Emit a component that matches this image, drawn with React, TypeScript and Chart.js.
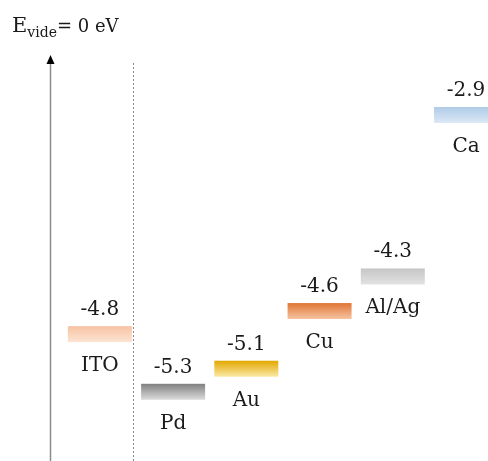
import React, { useEffect, useRef } from "react";
import { Chart, registerables } from "chart.js";

Chart.register(...registerables);

// ---- data ----
const materials = ["ITO", "Pd", "Au", "Cu", "Al/Ag", "Ca"];
const workFunctions = [-4.8, -5.3, -5.1, -4.6, -4.3, -2.9];
const valueLabels = ["-4.8", "-5.3", "-5.1", "-4.6", "-4.3", "-2.9"];
const gradientTop = ["#f7c2a2", "#808080", "#e2a800", "#e07635", "#c6c6c6", "#afcbe8"];
const gradientBottom = ["#fce4d4", "#dcdcdc", "#fbe8a6", "#f6c3a2", "#e2e2e2", "#dce8f5"];
const titleMain = "E";
const titleSub = "vide";
const titleRest = "= 0 eV";
const separatorAt = 0.45;

// ---- style ----
const FONT = "'DejaVu Serif', 'Liberation Serif', serif";
const LEVEL_W = 64;
const LEVEL_H = 16;

const levelsPlugin = {
  id: "levels",
  afterDatasetsDraw(chart: any) {
    const ctx: CanvasRenderingContext2D = chart.ctx;
    const area = chart.chartArea;
    const meta = chart.getDatasetMeta(0);
    ctx.save();

    // vertical energy axis with arrow
    const ax = area.left + 0.5;
    ctx.strokeStyle = "#8c8c8c";
    ctx.lineWidth = 1.5;
    ctx.beginPath();
    ctx.moveTo(ax, area.top + 6);
    ctx.lineTo(ax, area.bottom);
    ctx.stroke();
    ctx.fillStyle = "#000";
    ctx.beginPath();
    ctx.moveTo(ax, area.top);
    ctx.lineTo(ax - 4, area.top + 9);
    ctx.lineTo(ax + 4, area.top + 9);
    ctx.closePath();
    ctx.fill();

    // dotted separator
    const sx = Math.round(chart.scales.x.getPixelForValue(separatorAt)) + 0.5;
    ctx.strokeStyle = "#8a8a8a";
    ctx.lineWidth = 1;
    ctx.setLineDash([2, 2]);
    ctx.beginPath();
    ctx.moveTo(sx, area.top + 8);
    ctx.lineTo(sx, area.bottom);
    ctx.stroke();
    ctx.setLineDash([]);

    // energy levels
    meta.data.forEach((el: any, i: number) => {
      const x = el.x;
      const y = el.y;
      const g = ctx.createLinearGradient(0, y - LEVEL_H / 2, 0, y + LEVEL_H / 2);
      g.addColorStop(0, gradientTop[i]);
      g.addColorStop(1, gradientBottom[i]);
      ctx.fillStyle = g;
      ctx.fillRect(x - LEVEL_W / 2, y - LEVEL_H / 2, LEVEL_W, LEVEL_H);

      ctx.fillStyle = "#1a1a1a";
      ctx.font = `20px ${FONT}`;
      ctx.textAlign = "center";
      ctx.textBaseline = "alphabetic";
      ctx.fillText(valueLabels[i], x, y - LEVEL_H / 2 - 11);
      ctx.fillText(materials[i], x, y + LEVEL_H / 2 + 29);
    });

    // title E_vide = 0 eV
    ctx.textAlign = "left";
    ctx.textBaseline = "alphabetic";
    ctx.fillStyle = "#1a1a1a";
    let tx = 12;
    ctx.font = `21px ${FONT}`;
    ctx.fillText(titleMain, tx, 32);
    tx += ctx.measureText(titleMain).width;
    ctx.font = `14px ${FONT}`;
    ctx.fillText(titleSub, tx, 37);
    tx += ctx.measureText(titleSub).width;
    ctx.font = `18px ${FONT}`;
    ctx.fillText(titleRest, tx, 32);

    ctx.restore();
  },
};

export default function App() {
  const ref = useRef<HTMLCanvasElement | null>(null);

  useEffect(() => {
    document.body.style.margin = "0";
    const canvas = ref.current;
    if (!canvas) return;
    const chart = new Chart(canvas, {
      type: "scatter",
      data: {
        datasets: [
          {
            label: "Work function (eV)",
            data: workFunctions.map((v, i) => ({ x: i, y: v })),
            pointRadius: 0,
            pointHoverRadius: 0,
            showLine: false,
          },
        ],
      },
      options: {
        responsive: false,
        animation: false,
        layout: { padding: { left: 50, top: 55, right: 0, bottom: 0 } },
        plugins: {
          legend: { display: false },
          tooltip: { enabled: false },
          title: { display: false },
        },
        scales: {
          x: { type: "linear", display: false, min: -0.681, max: 5.3 },
          y: { type: "linear", display: false, min: -5.9, max: -2.38 },
        },
      },
      plugins: [levelsPlugin],
    });
    return () => chart.destroy();
  }, []);

  return (
    <div style={{ width: 488, height: 461, background: "#fff" }}>
      <canvas ref={ref} width={488} height={461} style={{ display: "block" }} />
    </div>
  );
}
